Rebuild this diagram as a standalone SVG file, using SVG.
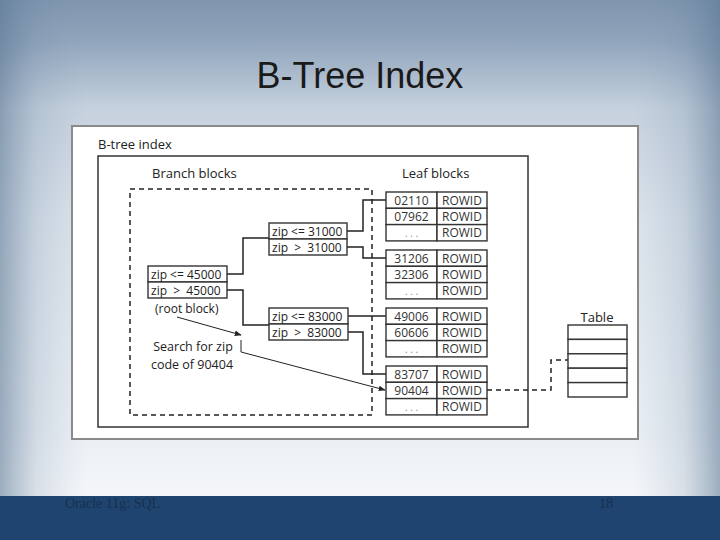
<svg xmlns="http://www.w3.org/2000/svg" width="720" height="540" viewBox="0 0 720 540">
<defs>
<linearGradient id="bgV" x1="0" y1="0" x2="0" y2="1">
<stop offset="0" stop-color="#7f95ae"/>
<stop offset="0.08" stop-color="#92a6bd"/>
<stop offset="0.2" stop-color="#c5d1dd"/>
<stop offset="0.4" stop-color="#dbe3eb"/>
<stop offset="0.8" stop-color="#eaeff4"/>
<stop offset="0.92" stop-color="#f4f6f9"/>
<stop offset="1" stop-color="#f4f6f9"/>
</linearGradient>
<linearGradient id="bgH" x1="0" y1="0" x2="1" y2="0">
<stop offset="0" stop-color="#56728f" stop-opacity="0.55"/>
<stop offset="0.05" stop-color="#6a84a3" stop-opacity="0.2"/>
<stop offset="0.12" stop-color="#8ea3bb" stop-opacity="0"/>
<stop offset="0.88" stop-color="#8ea3bb" stop-opacity="0"/>
<stop offset="0.95" stop-color="#6a84a3" stop-opacity="0.2"/>
<stop offset="1" stop-color="#56728f" stop-opacity="0.55"/>
</linearGradient>
<marker id="arr" viewBox="0 0 10 10" refX="9" refY="5" markerWidth="7" markerHeight="7" orient="auto" markerUnits="userSpaceOnUse">
<path d="M0,1 L10,5 L0,9 z" fill="#222"/>
</marker>
<style>
.lbl{font-family:"Open Sans","DejaVu Sans",sans-serif;fill:#222;}
.cell{fill:#fff;stroke:#333;stroke-width:1.4;}
.t12{font-family:"Open Sans","DejaVu Sans",sans-serif;font-size:12px;fill:#222;}
.num{font-family:"Open Sans","DejaVu Sans",sans-serif;font-size:12px;fill:#333;text-anchor:middle;}
.dots{font-family:"Open Sans","DejaVu Sans",sans-serif;font-size:10px;fill:#888;text-anchor:middle;}
.ln{fill:none;stroke:#222;stroke-width:1.5;}
.dash{fill:none;stroke:#222;stroke-width:1.5;stroke-dasharray:5,4;}
.thin{fill:none;stroke:#222;stroke-width:1;}
</style>
</defs>
<g id="background">
<rect x="0" y="0" width="720" height="540" fill="url(#bgV)"/>
<rect x="0" y="0" width="720" height="496" fill="url(#bgH)"/>
<rect x="0" y="496" width="720" height="44" fill="#1f4470"/>
<text x="65" y="508" font-family="Liberation Serif, serif" font-size="14" fill="#17304f">Oracle 11g: SQL</text>
<text x="599" y="508" font-family="Liberation Serif, serif" font-size="14" fill="#17304f">18</text>
</g>
<g id="title">
<text x="360" y="88" text-anchor="middle" font-family="Liberation Sans, Arial, sans-serif" font-size="36" fill="#1a1a1a">B-Tree Index</text>
</g>
<g id="panel">
<rect x="72" y="126" width="566" height="313" fill="#fff" stroke="#8a8a8a" stroke-width="2"/>
<text class="lbl" x="98" y="149" font-size="13">B-tree index</text>
<rect x="98" y="156" width="430" height="271" fill="none" stroke="#333" stroke-width="1.5"/>
<text class="lbl" x="152" y="178" font-size="13">Branch blocks</text>
<text class="lbl" x="402" y="178" font-size="13">Leaf blocks</text>
<rect x="130" y="189" width="242" height="226" class="dash"/>
</g>
<g id="connectors">
<path class="ln" d="M227,274 H243 V238 H269"/>
<path class="ln" d="M227,290 H243 V325 H269"/>
<path class="ln" d="M347,231 H363 V200 H386"/>
<path class="ln" d="M347,247 H363 V258 H386"/>
<path class="ln" d="M348,316 H386"/>
<path class="ln" d="M348,332 H363 V374 H386"/>
<path class="thin" d="M177,317 L241,335" marker-end="url(#arr)"/>
<path class="thin" d="M241,340 V352 L385,390" marker-end="url(#arr)"/>
<path class="dash" d="M487,390 H551 V360 H568"/>
</g>
<g id="root-block">
<rect class="cell" x="148" y="266" width="79" height="16"/>
<rect class="cell" x="148" y="282" width="79" height="16"/>
<text class="t12" x="151" y="278.5">zip &lt;= 45000</text>
<text class="t12" x="151" y="294.5" style="white-space:pre">zip  &gt;  45000</text>
<text class="lbl" x="155" y="313" font-size="12">(root block)</text>
</g>
<g id="search-label">
<text class="lbl" x="193" y="351" font-size="12.5" text-anchor="middle">Search for zip</text>
<text class="lbl" x="192" y="368.5" font-size="12.5" text-anchor="middle">code of 90404</text>
</g>
<g id="branch-upper">
<rect class="cell" x="269" y="223" width="78" height="16"/>
<rect class="cell" x="269" y="239" width="78" height="16"/>
<text class="t12" x="272" y="235.5">zip &lt;= 31000</text>
<text class="t12" x="272" y="251.5" style="white-space:pre">zip  &gt;  31000</text>
</g>
<g id="branch-lower">
<rect class="cell" x="269" y="308" width="79" height="16"/>
<rect class="cell" x="269" y="324" width="79" height="16"/>
<text class="t12" x="272" y="320.5">zip &lt;= 83000</text>
<text class="t12" x="272" y="336.5" style="white-space:pre">zip  &gt;  83000</text>
</g>
<g id="leaf-1">
<rect class="cell" x="386" y="192" width="51" height="16.3"/><rect class="cell" x="437" y="192" width="50" height="16.3"/>
<rect class="cell" x="386" y="208.3" width="51" height="16.3"/><rect class="cell" x="437" y="208.3" width="50" height="16.3"/>
<rect class="cell" x="386" y="224.6" width="51" height="16.3"/><rect class="cell" x="437" y="224.6" width="50" height="16.3"/>
<text class="num" x="411.5" y="204.5">02110</text><text class="num" x="462" y="204.5">ROWID</text>
<text class="num" x="411.5" y="220.8">07962</text><text class="num" x="462" y="220.8">ROWID</text>
<text class="dots" x="411.5" y="236.5">. . .</text><text class="num" x="462" y="237.1">ROWID</text>
</g>
<g id="leaf-2">
<rect class="cell" x="386" y="250" width="51" height="16.3"/><rect class="cell" x="437" y="250" width="50" height="16.3"/>
<rect class="cell" x="386" y="266.3" width="51" height="16.3"/><rect class="cell" x="437" y="266.3" width="50" height="16.3"/>
<rect class="cell" x="386" y="282.6" width="51" height="16.3"/><rect class="cell" x="437" y="282.6" width="50" height="16.3"/>
<text class="num" x="411.5" y="262.5">31206</text><text class="num" x="462" y="262.5">ROWID</text>
<text class="num" x="411.5" y="278.8">32306</text><text class="num" x="462" y="278.8">ROWID</text>
<text class="dots" x="411.5" y="294.5">. . .</text><text class="num" x="462" y="295.1">ROWID</text>
</g>
<g id="leaf-3">
<rect class="cell" x="386" y="308" width="51" height="16.3"/><rect class="cell" x="437" y="308" width="50" height="16.3"/>
<rect class="cell" x="386" y="324.3" width="51" height="16.3"/><rect class="cell" x="437" y="324.3" width="50" height="16.3"/>
<rect class="cell" x="386" y="340.6" width="51" height="16.3"/><rect class="cell" x="437" y="340.6" width="50" height="16.3"/>
<text class="num" x="411.5" y="320.5">49006</text><text class="num" x="462" y="320.5">ROWID</text>
<text class="num" x="411.5" y="336.8">60606</text><text class="num" x="462" y="336.8">ROWID</text>
<text class="dots" x="411.5" y="352.5">. . .</text><text class="num" x="462" y="353.1">ROWID</text>
</g>
<g id="leaf-4">
<rect class="cell" x="386" y="366" width="51" height="16.3"/><rect class="cell" x="437" y="366" width="50" height="16.3"/>
<rect class="cell" x="386" y="382.3" width="51" height="16.3"/><rect class="cell" x="437" y="382.3" width="50" height="16.3"/>
<rect class="cell" x="386" y="398.6" width="51" height="16.3"/><rect class="cell" x="437" y="398.6" width="50" height="16.3"/>
<text class="num" x="411.5" y="378.5">83707</text><text class="num" x="462" y="378.5">ROWID</text>
<text class="num" x="411.5" y="394.8">90404</text><text class="num" x="462" y="394.8">ROWID</text>
<text class="dots" x="411.5" y="410.5">. . .</text><text class="num" x="462" y="411.1">ROWID</text>
</g>
<g id="table">
<text class="lbl" x="597" y="322" font-size="13" text-anchor="middle">Table</text>
<rect class="cell" x="568" y="325" width="59" height="14.4"/>
<rect class="cell" x="568" y="339.4" width="59" height="14.4"/>
<rect class="cell" x="568" y="353.8" width="59" height="14.4"/>
<rect class="cell" x="568" y="368.2" width="59" height="14.4"/>
<rect class="cell" x="568" y="382.6" width="59" height="14.4"/>
</g>
</svg>
